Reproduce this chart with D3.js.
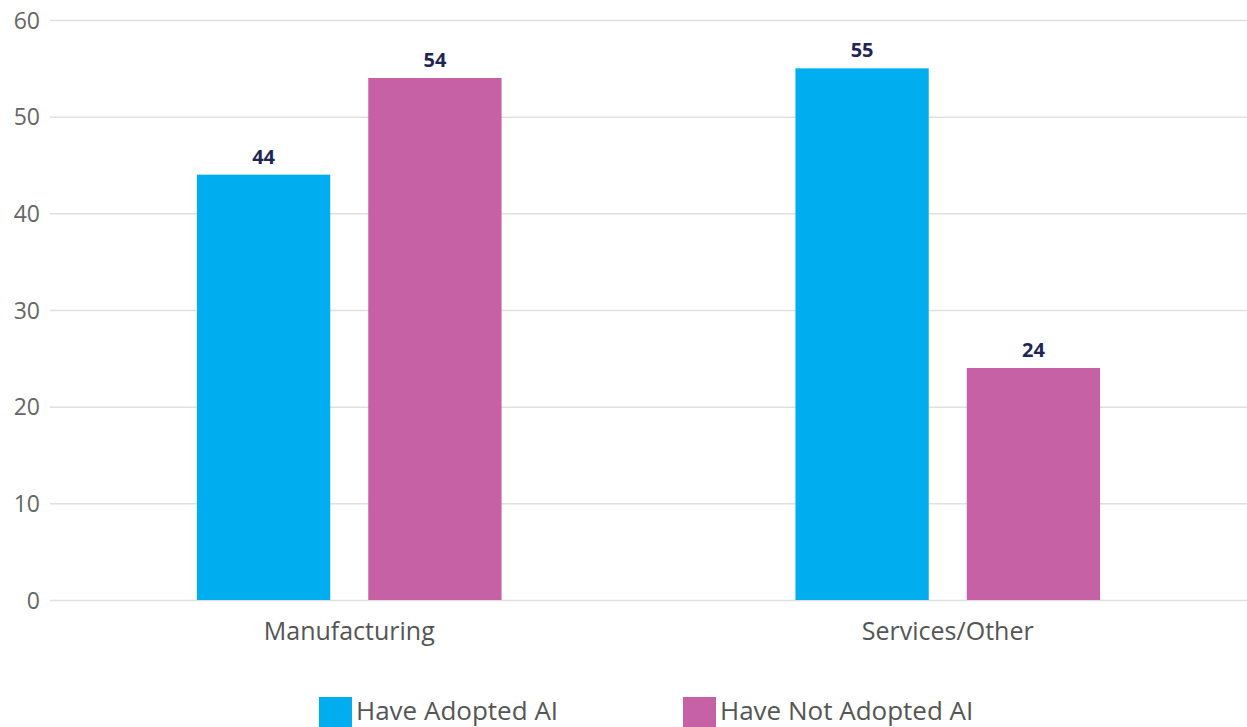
<!DOCTYPE html>
<html><head><meta charset="utf-8">
<script src="https://cdn.jsdelivr.net/npm/d3@7"></script>
<style>body{margin:0;background:#fff}svg{display:block}</style>
</head><body>
<svg id="c" width="1247" height="727"></svg>
<script>
const categories = ["Manufacturing", "Services/Other"];
const seriesNames = ["Have Adopted AI", "Have Not Adopted AI"];
const adopted = [44, 55];
const notAdopted = [54, 24];
const yTicks = [0, 10, 20, 30, 40, 50, 60];
const colors = ["#00AEEF", "#C561A4"];

const W = 1247, H = 727;
const m = {left: 50, right: 0, top: 20, bottom: 127};
const svg = d3.select("#c");
const font = "'Open Sans', sans-serif";

const x0 = d3.scaleBand().domain(categories).range([m.left, W - m.right]).paddingInner(0).paddingOuter(0);
const x1 = d3.scaleBand().domain(seriesNames).range([x0.bandwidth()*0.2455, x0.bandwidth()*0.7545]).paddingInner(0.222).paddingOuter(0);
const y = d3.scaleLinear().domain([0, 60]).range([H - m.bottom, m.top]);

const yAxis = d3.axisLeft(y).tickValues(yTicks).tickSize(-(W - m.left - m.right)).tickPadding(10);
const gy = svg.append("g").attr("transform", `translate(${m.left},0)`).call(yAxis);
gy.select(".domain").remove();
gy.selectAll(".tick line").attr("stroke", "#e0e0e0").attr("stroke-width", 1.5);
gy.selectAll(".tick text").attr("fill", "#666").style("font-family", font).style("font-size", "23px").attr("x", -10).attr("dy", "0.35em");

const data = categories.map((c, i) => ({cat: c, vals: [adopted[i], notAdopted[i]]}));
const groups = svg.append("g").selectAll("g").data(data).join("g")
  .attr("transform", d => `translate(${x0(d.cat)},0)`);
groups.selectAll("rect").data(d => d.vals.map((v, j) => ({s: seriesNames[j], v, j}))).join("rect")
  .attr("x", d => x1(d.s)).attr("width", x1.bandwidth())
  .attr("y", d => y(d.v)).attr("height", d => y(0) - y(d.v))
  .attr("fill", d => colors[d.j]);
groups.selectAll("text").data(d => d.vals.map((v, j) => ({s: seriesNames[j], v, j}))).join("text")
  .attr("x", d => x1(d.s) + x1.bandwidth()/2).attr("y", d => y(d.v) - 11)
  .attr("text-anchor", "middle").attr("fill", "#1f2654")
  .style("font-family", font).style("font-weight", "bold").style("font-size", "20px")
  .text(d => d.v);

const xAxis = d3.axisBottom(x0).tickSize(0).tickPadding(22);
const gx = svg.append("g").attr("transform", `translate(0,${y(0)})`).call(xAxis);
gx.select(".domain").remove();
gx.selectAll(".tick text").attr("fill", "#555").style("font-family", font).style("font-size", "25px");

const legendX = [319, 683];
const lg = svg.append("g").selectAll("g").data(seriesNames).join("g")
  .attr("transform", (d, i) => `translate(${legendX[i]},697)`);
lg.append("rect").attr("width", 33).attr("height", 32).attr("fill", (d, i) => colors[i]);
lg.append("text").attr("x", 37).attr("y", 23).attr("fill", "#555")
  .style("font-family", font).style("font-size", "26px").text(d => d);
</script>
</body></html>
